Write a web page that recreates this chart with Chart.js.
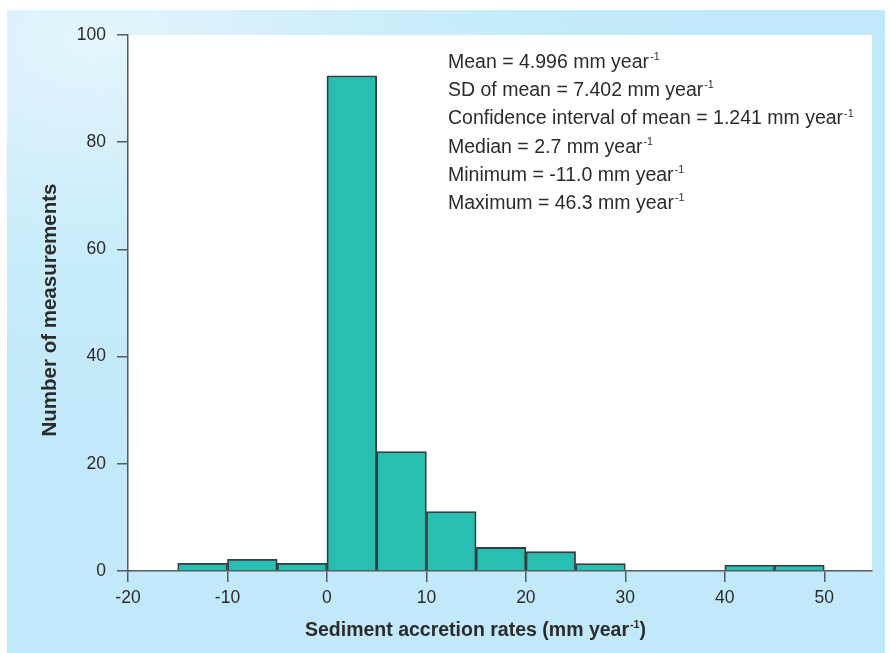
<!DOCTYPE html>
<html>
<head>
<meta charset="utf-8">
<script src="https://cdn.jsdelivr.net/npm/chart.js@4"></script>
<style>
  html, body { margin: 0; padding: 0; background: #fff; }
  #wrap { position: relative; width: 890px; height: 653px; }
  #panel { position: absolute; left: 7px; top: 10px; width: 878px; height: 643px;
           background: radial-gradient(ellipse 70% 60% at 10% 5%, #e4f5fc 0%, #c8ecfa 55%, #c1e9f9 100%); }
  #c { position: absolute; left: 0; top: 0; }
</style>
</head>
<body>
<div id="wrap">
  <div id="panel"></div>
  <canvas id="c" width="890" height="653"></canvas>
</div>
<script>
// histogram bins (mm/year), bin width 5
const binStart = [-15, -10, -5, 0, 5, 10, 15, 20, 25, 40, 45];
const counts = [1.45, 2.2, 1.45, 92.4, 22.3, 11.1, 4.4, 3.6, 1.4, 1.1, 1.1];
const BIN = 5;

const stats = [
    ['Mean = 4.996 mm year', '-1'],
    ['SD of mean = 7.402 mm year', '-1'],
    ['Confidence interval of mean = 1.241 mm year', '-1'],
    ['Median = 2.7 mm year', '-1'],
    ['Minimum = -11.0 mm year', '-1'],
    ['Maximum = 46.3 mm year', '-1'],
];
const xTitle = ['Sediment accretion rates (mm year', '-1', ')'];
const yTitle = 'Number of measurements';

const FILL = '#26bfb1', EDGE = '#363d41', AX = '#555a5e', TXT = '#2b2b2b';
const FONT = '"Liberation Sans", Arial, Helvetica, sans-serif';

// text with a raised "-1"
function supText(ctx, parts, x, y, size, bold, align) {
    const f = (s) => (bold ? 'bold ' : '') + s + 'px ' + FONT;
    ctx.font = f(size);
    const w0 = ctx.measureText(parts[0]).width;
    ctx.font = f(size * 0.55);
    const w1 = ctx.measureText(parts[1]).width;
    ctx.font = f(size);
    const w2 = parts[2] ? ctx.measureText(parts[2]).width : 0;
    let sx = align === 'center' ? x - (w0 + w1 + w2) / 2 : x;
    ctx.textAlign = 'left';
    ctx.textBaseline = 'alphabetic';
    ctx.font = f(size);
    ctx.fillText(parts[0], sx, y);
    ctx.font = f(size * 0.55);
    ctx.fillText(parts[1], sx + w0 + 1, y - size * 0.4);
    if (parts[2]) { ctx.font = f(size); ctx.fillText(parts[2], sx + w0 + w1 + 1, y); }
}

const decor = {
    id: 'decor',
    beforeDraw(chart) {
        const { ctx, chartArea: a } = chart;
        ctx.save();
        ctx.fillStyle = '#fff';
        ctx.fillRect(a.left, a.top, a.right - a.left, a.bottom - a.top);
        ctx.restore();
    },
    afterDraw(chart) {
        const { ctx } = chart;
        ctx.save();
        ctx.fillStyle = TXT;
        stats.forEach((s, i) => supText(ctx, s, 448, 68 + i * 28.2, 19.5, false, 'left'));
        supText(ctx, xTitle, 475, 636, 19.5, true, 'center');
        ctx.translate(56, 310);
        ctx.rotate(-Math.PI / 2);
        ctx.font = 'bold 20.5px ' + FONT;
        ctx.textAlign = 'center';
        ctx.textBaseline = 'alphabetic';
        ctx.fillText(yTitle, 0, 0);
        ctx.restore();
    }
};

new Chart(document.getElementById('c'), {
    type: 'bar',
    data: {
        datasets: [{
            data: binStart.map((s, i) => ({ x: s + BIN / 2, y: counts[i] })),
            backgroundColor: FILL,
            borderColor: EDGE,
            borderWidth: 1.8,
            borderSkipped: 'bottom',
            barPercentage: 1,
            categoryPercentage: 1,
        }]
    },
    options: {
        responsive: false,
        animation: false,
        layout: { padding: { top: 35, right: 18, bottom: 0, left: 0 } },
        plugins: { legend: { display: false }, tooltip: { enabled: false } },
        scales: {
            x: {
                type: 'linear', min: -20, max: 54.8, offset: false,
                afterFit: s => { s.height = 82; },
                border: { display: true, color: AX, width: 1.5 },
                grid: { display: true, offset: false, drawOnChartArea: false, drawTicks: true, tickLength: 11, color: AX, lineWidth: 1.5 },
                ticks: { stepSize: 10, includeBounds: false, color: TXT, font: { family: FONT, size: 17.5 }, padding: 6, maxRotation: 0 },
            },
            y: {
                min: 0, max: 100,
                afterFit: s => { s.width = 128; },
                border: { display: true, color: AX, width: 1.5 },
                grid: { display: true, drawOnChartArea: false, drawTicks: true, tickLength: 11, color: AX, lineWidth: 1.5 },
                ticks: { stepSize: 20, color: TXT, font: { family: FONT, size: 17.5 }, padding: 11 },
            }
        }
    },
    plugins: [decor]
});
</script>
</body>
</html>
